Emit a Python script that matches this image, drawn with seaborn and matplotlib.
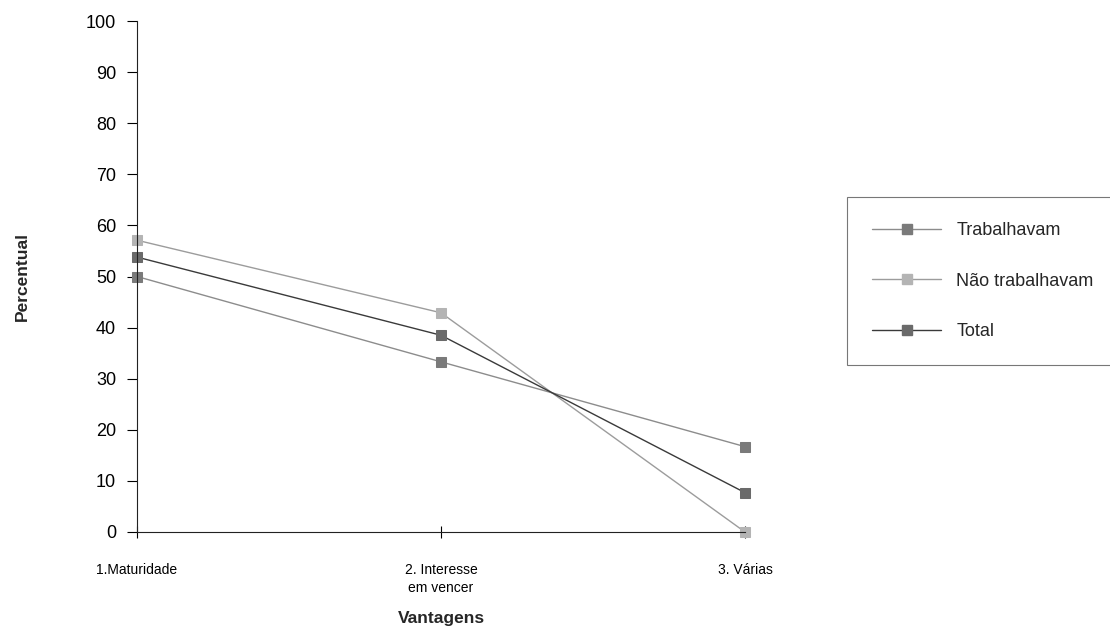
import matplotlib
matplotlib.use("Agg")
import matplotlib.pyplot as plt
from matplotlib.lines import Line2D
import seaborn as sns
import pandas as pd

categories = ["1.Maturidade", "2. Interesse\nem vencer", "3. Várias"]
series_names = ["Trabalhavam", "Não trabalhavam", "Total"]
trabalhavam = [50.0, 33.3, 16.7]
nao_trabalhavam = [57.1, 42.9, 0.0]
total = [53.8, 38.5, 7.7]
y_ticks = [0, 10, 20, 30, 40, 50, 60, 70, 80, 90, 100]

sns.set_theme(style="white")
plt.rcParams['font.family'] = ['Liberation Sans', 'DejaVu Sans']

rows = []
for name, vals in zip(series_names, [trabalhavam, nao_trabalhavam, total]):
    for i, (c, v) in enumerate(zip(categories, vals)):
        rows.append({"idx": i, "cat": c, "serie": name, "valor": v})
df = pd.DataFrame(rows)

line_colors = {"Trabalhavam": "#8c8c8c", "Não trabalhavam": "#9c9c9c", "Total": "#3a3a3a"}
marker_colors = {"Trabalhavam": "#7a7a7a", "Não trabalhavam": "#b4b4b4", "Total": "#6a6a6a"}

fig = plt.figure(figsize=(11.1, 6.37), dpi=100)
ax = fig.add_axes([137/1110, 1-532/637, (745-137)/1110, (532-21)/637])

sns.lineplot(data=df, x="idx", y="valor", hue="serie", hue_order=series_names,
             palette=line_colors, marker="s", markersize=7, linewidth=1.0,
             ax=ax, legend=False, sort=False)
for line, name in zip(ax.get_lines(), series_names):
    line.set_markerfacecolor(marker_colors[name])
    line.set_markeredgecolor(marker_colors[name])
    line.set_clip_on(False)

ax.set_xlim(0, 2)
ax.set_ylim(0, 100)
ax.set_yticks(y_ticks)
ax.set_xticks(range(len(categories)))
ax.set_xticklabels(categories, fontsize=10, linespacing=1.3)
ax.tick_params(axis='y', direction='out', length=7, width=0.8, labelsize=13, pad=8, left=True, colors='black')
ax.tick_params(axis='x', direction='inout', length=9, width=0.8, pad=18, bottom=True, colors='black')
for s in ["top", "right"]:
    ax.spines[s].set_visible(False)
for s in ["left", "bottom"]:
    ax.spines[s].set_color("#222222")
    ax.spines[s].set_linewidth(0.8)
ax.set_xlabel("Vantagens", fontsize=12.5, fontweight="bold", labelpad=12)
ax.set_ylabel("Percentual", fontsize=12.5, fontweight="bold", labelpad=40)

handles = [Line2D([0], [0], color=line_colors[n], lw=1.0, marker='s', markersize=7,
                  markerfacecolor=marker_colors[n], markeredgecolor=marker_colors[n])
           for n in series_names]
leg = fig.legend(handles, series_names, loc='upper left',
                 bbox_to_anchor=(847/1110, 1-197/637-0.01, 1.02-847/1110, 0.01),
                 mode='expand', borderaxespad=0, fontsize=13, frameon=True, fancybox=False,
                 handlelength=3.8, handletextpad=0.85, labelspacing=1.85, borderpad=1.4)
leg.get_frame().set_edgecolor("#555555")
leg.get_frame().set_linewidth(0.8)

fig.savefig("out.png", dpi=100)
